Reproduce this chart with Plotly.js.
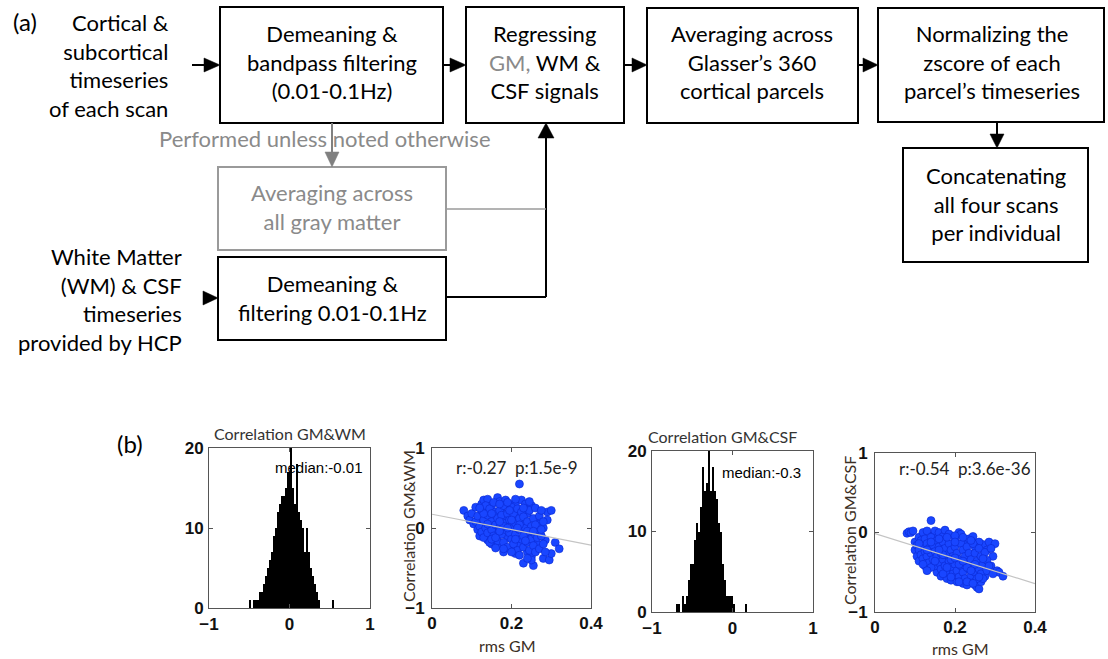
<!DOCTYPE html>
<html>
<head>
<meta charset="utf-8">
<script src="https://cdn.plot.ly/plotly-3.0.1.min.js"></script>
<style>html,body{margin:0;padding:0;background:#fff;}#chart{width:1108px;height:659px;}</style>
</head>
<body>
<div id="chart"></div>
<script>
// ---------------- DATA ----------------
// Histogram of correlation GM & WM (bin centers and counts)
const histWM_x = [-0.4875,-0.4375,-0.4125,-0.3875,-0.3625,-0.3375,-0.3125,-0.2875,-0.2625,-0.2375,-0.2125,-0.1875,-0.1625,-0.1375,-0.1125,-0.0875,-0.0625,-0.0375,-0.0125,0.0125,0.0375,0.0625,0.0875,0.1125,0.1375,0.1625,0.1875,0.2125,0.2375,0.2625,0.2875,0.3125,0.3375,0.3625,0.5375];
const histWM_y = [1,1,1,1,2,2,3,4,5,6,7,9,10,12,13,14,14,15,17,20,15,13,18,12,11,10,7,10,7,5,4,3,2,1,1];
// Histogram of correlation GM & CSF
const histCSF_x = [-0.6875,-0.6625,-0.6125,-0.5875,-0.5625,-0.5375,-0.5125,-0.4875,-0.4625,-0.4375,-0.4125,-0.3875,-0.3625,-0.3375,-0.3125,-0.2875,-0.2625,-0.2375,-0.2125,-0.1875,-0.1625,-0.1375,-0.1125,-0.0875,-0.0625,-0.0375,-0.0125,0.0125,0.1625];
const histCSF_y = [1,1,2,1,2,4,6,6,9,11,10,13,18,15,16,20,15,18,15,14,11,10,6,4,2,2,2,1,1];
const medianWM = "median:-0.01";
const medianCSF = "median:-0.3";

// Scatter: rms GM vs correlation GM&WM
const rmsGM_WM = [0.08,0.09,0.095,0.10,0.105,0.11,0.115,0.12,0.12,0.125,0.13,0.135,0.14,0.14,0.145,0.15,0.15,0.155,0.16,0.165,0.17,0.17,0.175,0.18,0.18,0.185,0.19,0.195,0.20,0.20,0.205,0.21,0.21,0.215,0.22,0.22,0.225,0.23,0.23,0.235,0.24,0.24,0.245,0.25,0.25,0.255,0.26,0.265,0.27,0.27,0.28,0.285,0.29,0.295,0.30,0.30,0.31,0.32,0.29,0.28,
0.11,0.115,0.12,0.125,0.125,0.13,0.13,0.135,0.135,0.14,0.14,0.145,0.145,0.15,0.15,0.155,0.155,0.16,0.16,0.165,0.165,0.17,0.17,0.175,0.175,0.18,0.18,0.185,0.185,0.19,0.19,0.195,0.195,0.20,0.20,0.205,0.205,0.21,0.21,0.215,0.215,0.22,0.22,0.225,0.225,0.23,0.23,0.235,0.235,0.24,0.24,0.245,0.245,0.25,0.25,0.255,0.255,0.26,0.26,0.265,0.265,0.27,0.27,0.275,0.28,0.28,0.285,0.25,0.24,0.22,0.20,0.18,0.16,0.15,0.13,0.12,0.17,0.19,0.21,0.23,0.245,0.26,0.275,0.14,0.16,0.18,0.20,0.22,0.24,0.26,0.17,0.19,0.21,0.23,0.15,0.17,0.195,0.215,0.235,0.255,0.275];
const corrWM = [0.22,0.15,0.10,0.18,0.05,0.26,-0.02,0.12,-0.10,0.30,0.35,0.20,0.36,-0.15,0.05,0.28,-0.20,0.12,-0.05,0.38,0.33,-0.22,0.25,-0.30,0.10,0.35,-0.12,0.30,-0.25,0.22,0.02,-0.32,0.30,0.15,0.55,-0.20,0.35,-0.44,0.05,0.30,-0.30,0.18,-0.10,0.28,-0.36,-0.47,0.10,-0.20,-0.05,0.05,-0.38,-0.15,0.20,-0.40,0.22,-0.32,-0.18,-0.26,0.10,0.00,
0.08,0.15,0.02,-0.05,0.22,0.10,-0.12,0.00,0.28,0.16,-0.06,0.24,-0.18,0.08,-0.02,0.32,-0.10,0.20,0.04,-0.16,0.12,0.00,0.22,-0.08,0.16,0.28,-0.18,0.06,-0.02,0.18,-0.24,0.10,-0.06,0.26,-0.14,0.18,-0.20,0.06,-0.08,0.24,-0.28,0.12,-0.02,-0.14,0.20,-0.24,0.14,-0.06,0.00,0.08,-0.18,0.22,-0.28,0.02,-0.14,0.12,-0.22,-0.08,-0.30,0.02,-0.12,0.15,-0.26,-0.10,-0.20,0.08,-0.30,-0.40,-0.38,-0.34,-0.30,-0.26,-0.25,-0.14,0.18,0.25,0.30,0.32,0.36,0.25,0.33,0.25,0.22,0.05,-0.12,0.02,0.10,0.04,-0.04,0.04,0.08,0.00,-0.14,-0.10,0.18,-0.04,0.22,0.00,-0.16,-0.04,-0.02];
const fitWM_x = [0, 0.4];
const fitWM_y = [0.172, -0.213];
const statsWM = "r:-0.27  p:1.5e-9";

// Scatter: rms GM vs correlation GM&CSF
const rmsGM_CSF = [0.08,0.085,0.09,0.095,0.10,0.10,0.105,0.11,0.11,0.12,0.125,0.13,0.14,0.145,0.15,0.155,0.16,0.165,0.17,0.175,0.18,0.185,0.19,0.20,0.205,0.21,0.215,0.22,0.225,0.23,0.235,0.24,0.245,0.25,0.255,0.26,0.265,0.27,0.275,0.28,0.285,0.29,0.295,0.30,0.305,0.31,0.32,0.26,0.25,
0.105,0.11,0.115,0.115,0.12,0.12,0.125,0.125,0.13,0.13,0.135,0.135,0.14,0.14,0.145,0.145,0.15,0.15,0.155,0.155,0.16,0.16,0.165,0.165,0.17,0.17,0.175,0.175,0.18,0.18,0.185,0.185,0.19,0.19,0.195,0.195,0.20,0.20,0.205,0.205,0.21,0.21,0.215,0.215,0.22,0.22,0.225,0.225,0.23,0.23,0.235,0.235,0.24,0.24,0.245,0.245,0.25,0.25,0.255,0.255,0.26,0.26,0.265,0.265,0.27,0.27,0.275,0.28,0.28,0.285,0.29,0.295,0.14,0.12,0.13,0.11,0.16,0.18,0.20,0.22,0.24,0.17,0.19,0.21,0.23,0.15,0.17,0.19,0.21,0.23,0.25,0.27,0.18,0.20,0.22,0.24,0.26,0.16,0.20,0.14,0.13,0.245];
const corrCSF = [-0.01,0.01,0.00,0.02,-0.12,-0.22,-0.30,-0.36,-0.06,0.00,-0.42,0.02,0.15,-0.04,0.02,-0.50,0.00,-0.55,-0.05,0.03,-0.58,-0.02,-0.60,-0.08,-0.62,0.00,-0.02,-0.64,-0.10,-0.66,-0.08,-0.60,-0.05,-0.66,-0.69,-0.71,-0.62,-0.15,-0.55,-0.22,-0.12,-0.42,-0.30,-0.14,-0.48,-0.50,-0.55,-0.12,-0.18,
-0.16,-0.22,-0.10,-0.28,-0.16,-0.33,-0.08,-0.24,-0.14,-0.30,-0.38,-0.20,-0.06,-0.26,-0.34,-0.16,-0.42,-0.24,-0.10,-0.30,-0.18,-0.38,-0.46,-0.26,-0.12,-0.34,-0.20,-0.42,-0.50,-0.28,-0.14,-0.36,-0.22,-0.44,-0.52,-0.30,-0.18,-0.40,-0.26,-0.48,-0.56,-0.34,-0.14,-0.42,-0.22,-0.50,-0.30,-0.58,-0.38,-0.18,-0.46,-0.26,-0.54,-0.34,-0.14,-0.42,-0.26,-0.50,-0.58,-0.36,-0.20,-0.46,-0.30,-0.52,-0.40,-0.58,-0.25,-0.35,-0.48,-0.42,-0.20,-0.52,-0.44,-0.40,-0.48,-0.14,-0.08,-0.06,-0.04,-0.06,-0.10,-0.52,-0.56,-0.62,-0.62,-0.36,-0.28,-0.34,-0.40,-0.44,-0.40,-0.33,-0.44,-0.32,-0.36,-0.48,-0.56,-0.22,-0.12,-0.12,-0.22,-0.64];
const fitCSF_x = [0, 0.4];
const fitCSF_y = [-0.014, -0.643];
const statsCSF = "r:-0.54  p:3.6e-36";

const histTicksX = [-1, 0, 1];
const histTicksY = [0, 10, 20];
const scTicksX = [0, 0.2, 0.4];
const scTickTextX = ["0", "0.2", "0.4"];
const scTicksY = [-1, 0, 1];

// ---------------- LAYOUT HELPERS ----------------
const W = 1108, H = 659;
const X = p => p / W;
const Y = p => 1 - p / H;
const shapes = [];
const ann = [];
const FF = "Lato, 'Open Sans', sans-serif";
function rect(x0, y0, x1, y1, col, w) {
  shapes.push({type:'rect', xref:'paper', yref:'paper', x0:X(x0), x1:X(x1), y0:Y(y1), y1:Y(y0), line:{color:col, width:w}, fillcolor:'rgba(0,0,0,0)'});
}
function seg(x0, y0, x1, y1, col, w) {
  shapes.push({type:'line', xref:'paper', yref:'paper', x0:X(x0), x1:X(x1), y0:Y(y0), y1:Y(y1), line:{color:col, width:w}});
}
function tri(pts, col) {
  const d = 'M ' + pts.map(p => X(p[0]).toFixed(5) + ',' + Y(p[1]).toFixed(5)).join(' L ') + ' Z';
  shapes.push({type:'path', xref:'paper', yref:'paper', path:d, fillcolor:col, line:{color:col, width:0.5}});
}
function txt(x, y, text, opts) {
  opts = opts || {};
  ann.push({xref:'paper', yref:'paper', x:X(x), y:Y(y), text:text, showarrow:false,
    xanchor:opts.xa || 'center', yanchor:'middle', align:opts.al || 'center',
    textangle: opts.rot || 0,
    font:{family:opts.ff || FF, size:opts.sz || 22, color:opts.c || '#000'}});
}

// ---------------- FLOWCHART (panel a) ----------------
const BK = '#000', GR = '#9a9a9a', GT = '#8a8a8a';
rect(220, 7, 443, 123, BK, 2);       // Demeaning & bandpass
rect(466, 7, 624, 123, BK, 2);       // Regressing
rect(647, 8, 858, 123, BK, 2);       // Glasser
rect(878, 8, 1104, 122, BK, 2);      // Normalizing
rect(903, 148, 1088, 262, BK, 2);    // Concatenating
rect(218, 167, 446, 250, GR, 2);     // Averaging gray matter (gray)
rect(218, 257, 446, 340, BK, 2);     // Demeaning & filtering WM/CSF

// arrows
seg(192, 65, 206, 65, BK, 2); tri([[204,58],[220,65],[204,72]], BK);
seg(443, 65, 451, 65, BK, 2); tri([[450,58],[466,65],[450,72]], BK);
seg(624, 65, 633, 65, BK, 2); tri([[632,58],[647,65],[632,72]], BK);
seg(858, 65, 864, 65, BK, 2); tri([[863,58],[878,65],[863,72]], BK);
seg(997, 122, 997, 135, BK, 2); tri([[990,134],[997,148],[1004,134]], BK);
seg(332, 123, 332, 153, '#808080', 2); tri([[325,152],[332,167],[339,152]], '#808080');
tri([[203,291],[218,298],[203,305]], BK);
seg(446, 297, 546, 297, BK, 2);
seg(546, 297, 546, 137, BK, 2); tri([[538,138],[546,123],[554,138]], BK);
seg(446, 209, 546, 209, GR, 1.5);

// texts
txt(25, 22, '(a)', {sz:24});
txt(171, 65, 'Cortical &<br>subcortical<br>timeseries<br>of each scan', {xa:'right', al:'right'});
txt(332, 62, 'Demeaning &<br>bandpass filtering<br>(0.01-0.1Hz)');
txt(545, 62, 'Regressing<br><span style="color:#8a8a8a">GM,</span> WM &amp;<br>CSF signals');
txt(752, 62, 'Averaging across<br>Glasser\u2019s 360<br>cortical parcels');
txt(992, 62, 'Normalizing the<br>zscore of each<br>parcel\u2019s timeseries');
txt(996, 204, 'Concatenating<br>all four scans<br>per individual');
txt(325, 138, 'Performed unless noted otherwise', {c:GT, sz:22});
txt(332, 207, 'Averaging across<br>all gray matter', {c:GT});
txt(332, 298, 'Demeaning &<br>filtering 0.01-0.1Hz');
txt(184, 300, 'White Matter<br>(WM) &amp; CSF<br>timeseries<br>provided by HCP', {xa:'right', al:'right'});
txt(130, 443, '(b)', {sz:24});

// ---------------- PANEL b texts ----------------
txt(289.5, 433, 'Correlation GM&amp;WM', {sz:16, c:'#333'});
txt(723, 436, 'Correlation GM&amp;CSF', {sz:16, c:'#333'});
const AF = "'Liberation Sans', Arial, sans-serif";
txt(273, 467, medianWM, {xa:'left', ff:AF, sz:15});
txt(720, 472, medianCSF, {xa:'left', ff:AF, sz:15});
txt(454, 467, statsWM, {xa:'left', sz:17, c:'#222'});
txt(897, 468, statsCSF, {xa:'left', sz:17, c:'#222'});
const TC = '#3b2e24';
txt(408, 526, 'Correlation GM&amp;WM', {rot:-90, sz:16, c:TC});
txt(849, 531, 'Correlation GM&amp;CSF', {rot:-90, sz:16, c:TC});
txt(507, 645, 'rms GM', {sz:16, c:TC});
txt(960, 648, 'rms GM', {sz:16, c:TC});

// ---------------- TRACES ----------------
const blue = 'rgb(25,70,255)';
const traces = [
  {type:'bar', x:histWM_x, y:histWM_y, width:0.025, marker:{color:'#000', line:{width:0}}, xaxis:'x', yaxis:'y', hoverinfo:'skip'},
  {type:'scatter', mode:'markers', x:rmsGM_WM, y:corrWM, marker:{size:8, color:blue, line:{color:'rgb(10,40,210)', width:0.6}}, xaxis:'x2', yaxis:'y2', hoverinfo:'skip'},
  {type:'scatter', mode:'lines', x:fitWM_x, y:fitWM_y, line:{color:'#c4c4c4', width:1.2}, xaxis:'x2', yaxis:'y2', hoverinfo:'skip'},
  {type:'bar', x:histCSF_x, y:histCSF_y, width:0.025, marker:{color:'#000', line:{width:0}}, xaxis:'x3', yaxis:'y3', hoverinfo:'skip'},
  {type:'scatter', mode:'markers', x:rmsGM_CSF, y:corrCSF, marker:{size:8, color:blue, line:{color:'rgb(10,40,210)', width:0.6}}, xaxis:'x4', yaxis:'y4', hoverinfo:'skip'},
  {type:'scatter', mode:'lines', x:fitCSF_x, y:fitCSF_y, line:{color:'#c4c4c4', width:1.2}, xaxis:'x4', yaxis:'y4', hoverinfo:'skip'}
];

const tf = {family:"'Liberation Sans', Arial, sans-serif", size:17, color:'#111', weight:700};
function ax(dom, range, tv, tt, extra) {
  const a = {domain:dom, range:range, tickvals:tv, showline:true, linecolor:'#555', linewidth:1, mirror:'ticks',
    ticks:'inside', ticklen:4, tickcolor:'#555', showgrid:false, zeroline:false, tickfont:tf, fixedrange:true};
  if (tt) a.ticktext = tt;
  return Object.assign(a, extra || {});
}
const layout = {
  width:W, height:H, autosize:false, showlegend:false,
  margin:{l:0, r:0, t:0, b:0}, paper_bgcolor:'#fff', plot_bgcolor:'#fff', bargap:0,
  xaxis: ax([X(209), X(370)], [-1, 1], histTicksX, null, {anchor:'y', ticklabelstandoff:1}),
  yaxis: ax([Y(608), Y(448)], [0, 20], histTicksY, null, {anchor:'x', ticklabelstandoff:1}),
  xaxis2: ax([X(432), X(591)], [0, 0.4], scTicksX, scTickTextX, {anchor:'y2', ticklabelstandoff:0}),
  yaxis2: ax([Y(608), Y(448)], [-1, 1], scTicksY, null, {anchor:'x2', ticklabelstandoff:3}),
  xaxis3: ax([X(652), X(813)], [-1, 1], histTicksX, null, {anchor:'y3', ticklabelstandoff:1}),
  yaxis3: ax([Y(612), Y(451)], [0, 20], histTicksY, null, {anchor:'x3', ticklabelstandoff:1}),
  xaxis4: ax([X(875), X(1035)], [0, 0.4], scTicksX, scTickTextX, {anchor:'y4', ticklabelstandoff:0}),
  yaxis4: ax([Y(612), Y(453)], [-1, 1], scTicksY, null, {anchor:'x4', ticklabelstandoff:3}),
  shapes:shapes, annotations:ann
};
Plotly.newPlot('chart', traces, layout, {displayModeBar:false, staticPlot:true});
</script>
</body>
</html>
